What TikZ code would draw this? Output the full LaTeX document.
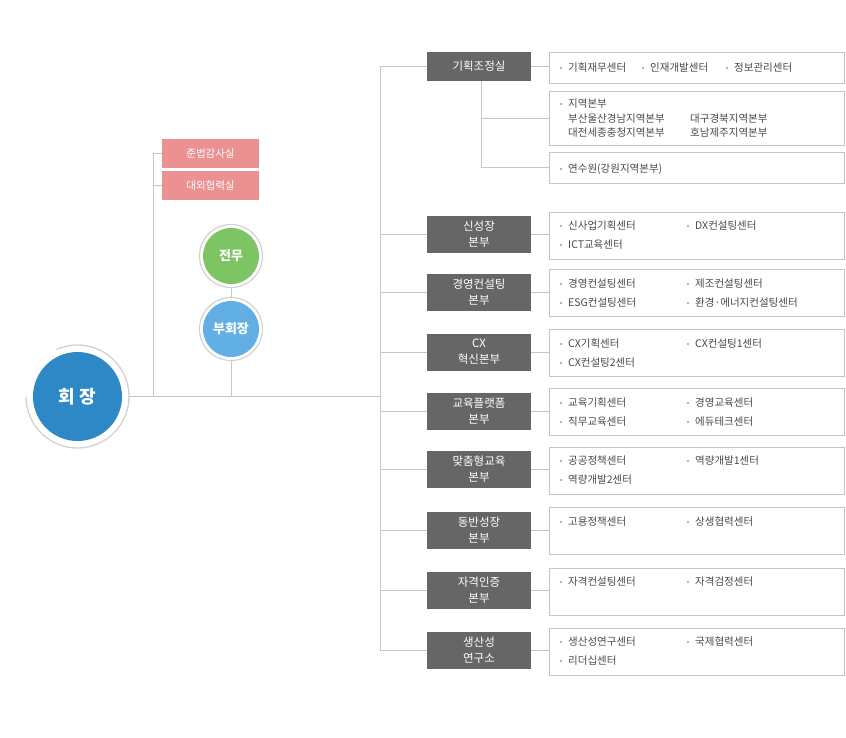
\documentclass[tikz,border=0pt]{standalone}
\usepackage{fontspec}
\setmainfont{Noto Sans CJK KR}
\usetikzlibrary{calc}
\definecolor{lineC}{HTML}{C6C6C6}
\definecolor{boxC}{HTML}{C4C4C4}
\definecolor{darkC}{HTML}{666666}
\definecolor{txtC}{HTML}{4A4A4A}
\definecolor{bulC}{HTML}{B5B5B5}
\definecolor{pinkC}{HTML}{EC9191}
\definecolor{ceoC}{HTML}{2F88C6}
\definecolor{grnC}{HTML}{7DC462}
\definecolor{vpC}{HTML}{62AFE5}
\definecolor{ringC}{HTML}{D2D2D2}
\newcommand\myitem[4]{\fill[bulC] (#1-8,#2-1) rectangle ++(2,2); \node[item] (#4) at (#1,#2) {#3};}
\newcommand\myplain[4]{\node[item] (#4) at (#1,#2) {#3};}
\begin{document}
\begin{tikzpicture}[x=1pt,y=-1pt,
 conn/.style={draw=lineC,line width=1pt},
 dbox/.style={fill=darkC,text=white,minimum width=104pt,minimum height=37pt,inner sep=0pt,align=center,font=\fontsize{11.5}{16}\selectfont},
 lbox/.style={draw=boxC,fill=white,line width=0.9pt,minimum width=295pt,minimum height=47pt,inner sep=0pt},
 item/.style={anchor=west,inner sep=0pt,text=txtC,font=\fontsize{10.5}{12}\selectfont},
 pbox/.style={fill=pinkC,text=white,minimum width=97pt,minimum height=29pt,inner sep=0pt,font=\fontsize{10.5}{12}\selectfont},
 ball/.style={circle,inner sep=0pt,text=white}]
\useasboundingbox (0,0) rectangle (846,737);
\fill[white] (0,0) rectangle (846,737);

% ---------- left part ----------
\node[ball,fill=ceoC,minimum size=89pt,font=\fontsize{18}{20}\selectfont\bfseries] (ceo) at (77.5,396.5) {회 장};
\draw[ringC,line width=1.3pt] (ceo.center) ++(114:51.5pt) arc[start angle=114,end angle=-180,radius=51.5pt];
\coordinate (ceoE) at (129,396.5);

\node[ball,fill=grnC,minimum size=56pt,font=\fontsize{13}{15}\selectfont\bfseries] (jm) at (231,256) {전무};
\draw[ringC,line width=1.2pt] (jm.center) circle[radius=31.5pt];
\node[ball,fill=vpC,minimum size=56pt,font=\fontsize{13}{15}\selectfont\bfseries] (vp) at (231,329) {부회장};
\draw[ringC,line width=1.2pt] (vp.center) circle[radius=31.5pt];

\node[pbox] (p1) at (210.5,153.5) {준법감사실};
\node[pbox] (p2) at (210.5,185.5) {대외협력실};

\coordinate (pX) at (153,0);
\coordinate (trX) at (380,0);
\draw[conn] (ceoE) -- (ceoE -| trX);
\draw[conn] (p1.west -| pX) -- (ceoE -| pX);
\draw[conn] (p1.west -| pX) -- (p1.west);
\draw[conn] (p2.west -| pX) -- (p2.west);
\draw[conn] ($(jm.center)+(0,31.5)$) -- ($(vp.center)+(0,-31.5)$);
\draw[conn] ($(vp.center)+(0,31.5)$) -- (ceoE -| vp.center);

% ---------- top group ----------
\node[dbox,minimum height=29pt] (d0) at (479,66.5) {기획조정실};
\node[lbox,minimum height=31pt] (l0a) at (696.5,67.5) {};
\node[lbox,minimum height=54pt] (l0b) at (696.5,118.5) {};
\node[lbox,minimum height=31pt] (l0c) at (696.5,167.5) {};
\draw[conn] (d0.east) -- (d0.east -| l0a.west);
\coordinate (subT) at (481,81);
\draw[conn] (subT) -- (subT |- l0c.west) -- (l0c.west);
\draw[conn] (subT |- l0b.west) -- (l0b.west);

\myitem{568}{68}{기획재무센터}{ia1}
\myitem{650}{68}{인재개발센터}{ia2}
\myitem{734}{68}{정보관리센터}{ia3}
\myitem{568}{104}{지역본부}{ib1}
\myplain{568}{118.5}{부산울산경남지역본부}{ib2}
\myplain{690}{118.5}{대구경북지역본부}{ib3}
\myplain{568}{133}{대전세종충청지역본부}{ib4}
\myplain{690}{133}{호남제주지역본부}{ib5}
\myitem{568}{169}{연수원(강원지역본부)}{ic1}

% ---------- divisions ----------
\foreach \i/\c/\t in {1/234.5/{신성장\\본부},2/292/{경영컨설팅\\본부},3/352/{CX\\혁신본부},4/411/{교육플랫폼\\본부},5/469.5/{맞춤형교육\\본부},6/530/{동반성장\\본부},7/590.5/{자격인증\\본부},8/650.5/{생산성\\연구소}}{
  \node[dbox] (d\i) at (479,\c) {\t};
  \node[lbox] (l\i) at (696.5,\c+1) {};
  \draw[conn] (d\i.west -| trX) -- (d\i.west);
  \draw[conn] (d\i.east) -- (d\i.east -| l\i.west);
}
\draw[conn] (d0.west -| trX) -- (d8.west -| trX);
\draw[conn] (d0.west -| trX) -- (d0.west);

\myitem{568}{226}{신사업기획센터}{i1a}
\myitem{695}{226}{DX컨설팅센터}{i1b}
\myitem{568}{245}{ICT교육센터}{i1c}

\myitem{568}{283.5}{경영컨설팅센터}{i2a}
\myitem{695}{283.5}{제조컨설팅센터}{i2b}
\myitem{568}{302.5}{ESG컨설팅센터}{i2c}
\myitem{695}{302.5}{환경·에너지컨설팅센터}{i2d}

\myitem{568}{343.5}{CX기획센터}{i3a}
\myitem{695}{343.5}{CX컨설팅1센터}{i3b}
\myitem{568}{362.5}{CX컨설팅2센터}{i3c}

\myitem{568}{402.5}{교육기획센터}{i4a}
\myitem{695}{402.5}{경영교육센터}{i4b}
\myitem{568}{421.5}{직무교육센터}{i4c}
\myitem{695}{421.5}{에듀테크센터}{i4d}

\myitem{568}{461}{공공정책센터}{i5a}
\myitem{695}{461}{역량개발1센터}{i5b}
\myitem{568}{480}{역량개발2센터}{i5c}

\myitem{568}{521.5}{고용정책센터}{i6a}
\myitem{695}{521.5}{상생협력센터}{i6b}

\myitem{568}{582}{자격컨설팅센터}{i7a}
\myitem{695}{582}{자격검정센터}{i7b}

\myitem{568}{642}{생산성연구센터}{i8a}
\myitem{695}{642}{국제협력센터}{i8b}
\myitem{568}{661}{리더십센터}{i8c}
\end{tikzpicture}
\end{document}
